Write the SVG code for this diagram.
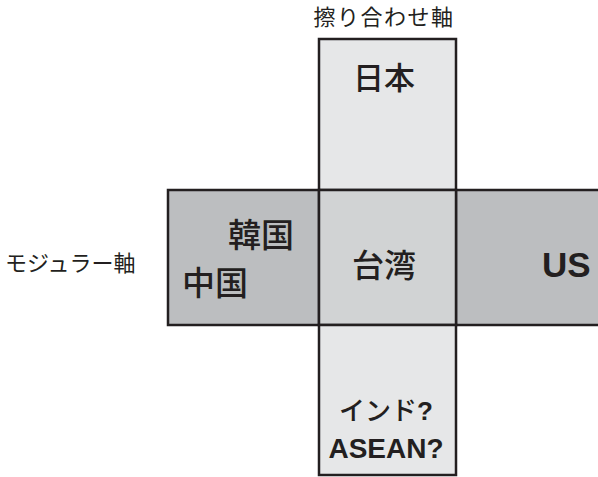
<svg xmlns="http://www.w3.org/2000/svg" width="598" height="477" viewBox="0 0 598 477">
  <style>
    .cell { stroke: #231f20; stroke-width: 2.5; }
    .outer { fill: #e6e7e8; }
    .center { fill: #d1d3d4; }
    .side { fill: #bcbec0; }
    text { fill: #231f20; font-family: "Liberation Sans", "Noto Sans CJK JP", sans-serif; }
    .lbl { font-weight: bold; }
    .cjk { font-family: "Noto Sans CJK JP", sans-serif; font-weight: 500; }
    .axis { font-family: "Noto Sans CJK JP", sans-serif; font-size: 22px; }
  </style>
  <rect width="598" height="477" fill="#ffffff"/>
  <g id="axis-labels">
    <text class="axis" x="384" y="25" text-anchor="middle" letter-spacing="1.5">擦り合わせ軸</text>
    <text class="axis" x="5" y="271">モジュラー軸</text>
  </g>
  <g id="node-japan">
    <rect class="cell outer" x="319" y="39" width="137" height="151"/>
    <text class="cjk" x="384" y="89" font-size="31" text-anchor="middle">日本</text>
  </g>
  <g id="node-korea-china">
    <rect class="cell side" x="168" y="190" width="151" height="135"/>
    <text class="cjk" x="228" y="247" font-size="33">韓国</text>
    <text class="cjk" x="182" y="295" font-size="33">中国</text>
  </g>
  <g id="node-us">
    <rect class="cell side" x="456" y="190" width="150" height="135"/>
    <text class="lbl" x="542" y="277" font-size="35">US</text>
  </g>
  <g id="node-taiwan">
    <rect class="cell center" x="319" y="190" width="137" height="135"/>
    <text class="cjk" x="384" y="277" font-size="32" text-anchor="middle">台湾</text>
  </g>
  <g id="node-india-asean">
    <rect class="cell outer" x="319" y="325" width="137" height="150"/>
    <text x="386" y="420" font-size="26" text-anchor="middle"><tspan class="cjk">インド</tspan><tspan class="lbl">?</tspan></text>
    <text class="lbl" x="386" y="458" font-size="28" text-anchor="middle">ASEAN?</text>
  </g>
</svg>
